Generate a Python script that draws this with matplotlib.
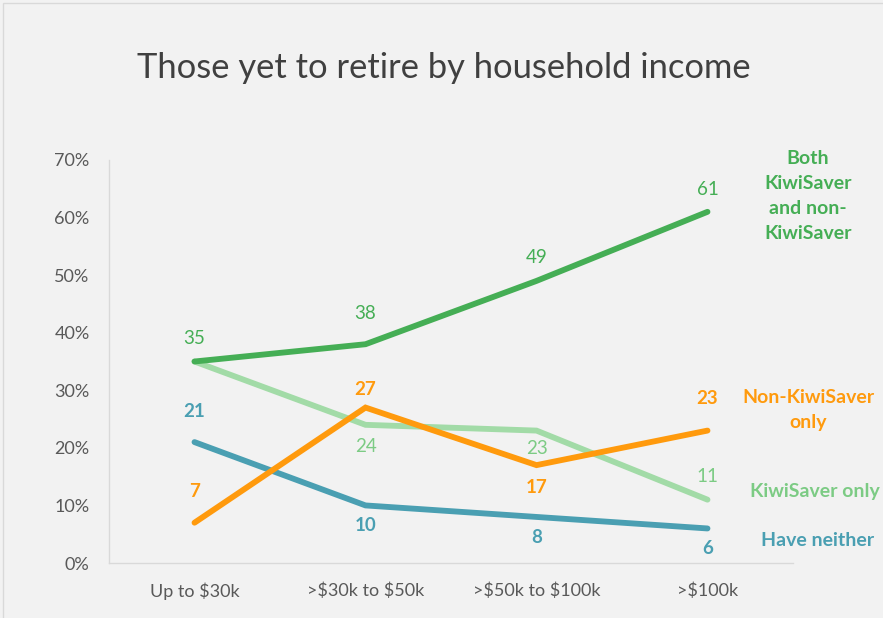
import matplotlib
matplotlib.use("Agg")
import matplotlib.pyplot as plt
from matplotlib.patches import Rectangle

categories = ["Up to $30k", ">$30k to $50k", ">$50k to $100k", ">$100k"]
both = [35, 38, 49, 61]
kiwi_only = [35, 24, 23, 11]
non_kiwi_only = [7, 27, 17, 23]
neither = [21, 10, 8, 6]
yticks = [0, 10, 20, 30, 40, 50, 60, 70]
ytick_labels = ["0%", "10%", "20%", "30%", "40%", "50%", "60%", "70%"]

C_BOTH = "#45AE55"
C_KIWI = "#A2DBA7"
C_KIWI_TXT = "#7CCB84"
C_NON = "#FF9A0D"
C_NEI = "#4A9FB2"
BG = "#F2F2F2"

plt.rcParams['font.family'] = ['Lato', 'DejaVu Sans']

fig = plt.figure(figsize=(8.83, 6.18), dpi=100, facecolor=BG)
ax = fig.add_axes([109/883, 55/618, 684/883, 403/618])
ax.set_facecolor(BG)

x = list(range(len(categories)))
lw = 4.2
ax.plot(x, kiwi_only, color=C_KIWI, lw=lw, solid_capstyle='round', solid_joinstyle='miter', zorder=2)
ax.plot(x, neither, color=C_NEI, lw=lw, solid_capstyle='round', solid_joinstyle='miter', zorder=3)
ax.plot(x, non_kiwi_only, color=C_NON, lw=lw, solid_capstyle='round', solid_joinstyle='miter', zorder=4)
ax.plot(x, both, color=C_BOTH, lw=lw, solid_capstyle='round', solid_joinstyle='miter', zorder=5)

ax.set_xlim(-0.5, 3.5)
ax.set_ylim(0, 70)
ax.set_xticks(x)
ax.set_xticklabels([c.replace('$', r'\$') for c in categories], fontsize=13, color="#595959")
ax.set_yticks(yticks)
ax.set_yticklabels(ytick_labels, fontsize=13, color="#595959")
ax.tick_params(length=0)
ax.tick_params(axis='x', pad=14)
ax.tick_params(axis='y', pad=14)
for s in ['top', 'right']:
    ax.spines[s].set_visible(False)
for s in ['left', 'bottom']:
    ax.spines[s].set_color("#D9D9D9")
    ax.spines[s].set_linewidth(1)

def labels(vals, offs, color, weight):
    for i, (v, o) in enumerate(zip(vals, offs)):
        if o is None:
            continue
        ax.annotate(str(v), (i, v), xytext=(0, o), textcoords='offset pixels',
                    ha='center', va='center', fontsize=13.5, color=color,
                    fontweight=weight, zorder=6)

labels(both, [23, 31, 23, 22], C_BOTH, 'normal')
labels(kiwi_only, [None, -22, -18, 23], C_KIWI_TXT, 'normal')
labels(non_kiwi_only, [31, 18, -22, 32], C_NON, 'bold')
labels(neither, [31, -20, -21, -20], C_NEI, 'bold')

# series names on the right
fig.text(808/883, 1 - 196/618, "Both\nKiwiSaver\nand non-\nKiwiSaver", ha='center', va='center',
         fontsize=14, fontweight='bold', color=C_BOTH, linespacing=1.58)
fig.text(808/883, 1 - 410/618, "Non-KiwiSaver\nonly", ha='center', va='center',
         fontsize=14, fontweight='bold', color=C_NON, linespacing=1.58)
fig.text(815/883, 1 - 492/618, "KiwiSaver only", ha='center', va='center',
         fontsize=14, fontweight='bold', color=C_KIWI_TXT)
fig.text(818/883, 1 - 540/618, "Have neither", ha='center', va='center',
         fontsize=14, fontweight='bold', color=C_NEI)

fig.text(444/883, 1 - 68/618, "Those yet to retire by household income", ha='center', va='center',
         fontsize=24.8, color="#404040")

fig.patches.append(Rectangle((3/883, -0.01), 1.0, 1 - 3/618 + 0.01, transform=fig.transFigure,
                             fill=False, edgecolor="#D9D9D9", lw=1))

fig.savefig("out.png", dpi=100, facecolor=BG)
